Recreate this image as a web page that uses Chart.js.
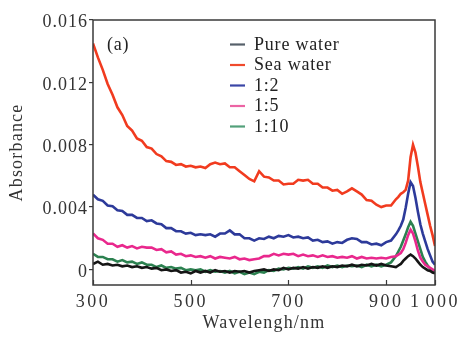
<!DOCTYPE html>
<html><head><meta charset="utf-8">
<script src="https://cdn.jsdelivr.net/npm/chart.js@4.4.0/dist/chart.umd.min.js"></script>
<style>html,body{margin:0;padding:0;background:#fff;}#wrap{width:466px;height:344px;}</style>
</head><body><div id="wrap"><canvas id="c" width="466" height="344"></canvas></div>
<script>
// Wavelength (nm)
const wavelengths = [300,310,320,330,340,350,360,370,380,390,400,410,420,430,440,450,460,470,480,490,500,510,520,530,540,550,560,570,580,590,600,610,620,630,640,650,660,670,680,690,700,710,720,730,740,750,760,770,780,790,800,810,820,830,840,850,860,870,880,890,900,910,920,925,930,935,940,945,950,955,960,965,970,975,980,985,990,995,1000];
// Absorbance values in units of 0.001
const pureWater = [0.35,0.5,0.3,0.35,0.25,0.3,0.2,0.25,0.15,0.2,0.1,0.15,0.05,0.1,-0.05,0.0,-0.1,-0.05,-0.2,-0.15,-0.25,-0.1,-0.2,-0.1,-0.2,-0.05,-0.15,-0.1,-0.2,-0.1,-0.15,-0.1,-0.2,-0.1,-0.05,0.0,-0.1,0.0,-0.05,0.1,0.0,0.1,0.05,0.15,0.05,0.15,0.1,0.2,0.1,0.2,0.15,0.25,0.2,0.3,0.2,0.3,0.25,0.35,0.25,0.35,0.25,0.2,0.15,0.25,0.35,0.55,0.7,0.85,0.95,0.85,0.7,0.5,0.3,0.15,0.05,-0.05,-0.1,-0.2,-0.25];
const seaWater = [14.5,13.6,12.8,11.9,11.2,10.4,9.9,9.2,8.9,8.4,8.25,7.85,7.75,7.4,7.25,6.95,6.9,6.7,6.75,6.6,6.65,6.55,6.6,6.5,6.75,6.85,6.75,6.8,6.55,6.55,6.3,6.05,5.8,5.65,6.3,5.95,5.9,5.7,5.7,5.45,5.5,5.5,5.75,5.7,5.75,5.5,5.5,5.25,5.25,5.05,5.1,4.85,5.0,5.2,5.0,4.8,4.45,4.4,4.15,4.0,4.1,4.1,4.5,4.65,4.85,4.95,5.1,5.7,7.2,8.0,7.5,6.6,5.6,4.9,4.2,3.5,2.8,2.2,1.5];
const ratio1to2 = [4.8,4.5,4.4,4.1,4.05,3.8,3.75,3.5,3.5,3.3,3.3,3.1,3.15,2.95,2.9,2.65,2.65,2.45,2.45,2.3,2.35,2.2,2.25,2.2,2.25,2.1,2.3,2.3,2.5,2.25,2.25,2.0,2.0,1.85,2.0,1.95,2.1,2.0,2.15,2.1,2.2,2.05,2.1,2.0,2.05,1.85,1.9,1.75,1.8,1.65,1.75,1.7,1.9,2.0,1.95,1.75,1.75,1.6,1.65,1.55,1.75,1.85,2.25,2.5,2.8,3.2,3.95,4.85,5.6,5.35,4.6,3.7,2.9,2.3,1.8,1.3,0.9,0.5,0.3];
const ratio1to5 = [2.3,2.0,1.9,1.65,1.65,1.45,1.55,1.4,1.5,1.35,1.45,1.4,1.4,1.25,1.3,1.1,1.15,0.95,1.0,0.85,0.9,0.8,0.85,0.75,0.85,0.7,0.8,0.75,0.7,0.8,0.65,0.7,0.6,0.65,0.7,0.85,0.85,1.0,0.9,1.0,0.95,1.0,0.85,0.95,0.85,0.9,0.8,0.9,0.8,0.85,0.75,0.8,0.75,0.85,0.7,0.8,0.7,0.75,0.7,0.75,0.7,0.8,0.85,0.95,1.05,1.3,1.7,2.2,2.55,2.3,1.8,1.2,0.75,0.5,0.3,0.2,0.1,0.0,-0.1];
const ratio1to10 = [1.0,0.8,0.8,0.65,0.65,0.5,0.6,0.45,0.5,0.35,0.45,0.3,0.3,0.15,0.25,0.1,0.15,0.05,0.1,-0.05,0.0,-0.05,0.0,-0.15,-0.05,-0.15,-0.1,-0.2,-0.1,-0.25,-0.15,-0.3,-0.2,-0.3,-0.15,-0.2,-0.05,-0.1,0.05,0.0,0.1,0.05,0.15,0.05,0.2,0.1,0.2,0.1,0.25,0.15,0.25,0.15,0.25,0.2,0.25,0.15,0.3,0.2,0.3,0.2,0.3,0.45,0.85,1.15,1.45,1.85,2.25,2.7,3.05,2.8,2.3,1.8,1.3,0.8,0.5,0.25,0.05,-0.1,-0.2];

const seriesNames = ['Pure water','Sea water','1:2','1:5','1:10'];
const seriesValues = [pureWater, seaWater, ratio1to2, ratio1to5, ratio1to10];
const seriesColors = ['#151515','#f13b1f','#2d3a9a','#e9288d','#2c8150'];
const legendColors = ['#56606a','#f04a2c','#3a46a6','#ec64a4','#52a07a'];

const xTicks = [300,500,700,900,1000];
const xTickLabels = ['300','500','700','900','1\u200A000'];
const yTicks = [0,4,8,12,16];
const yTickLabels = ['0','0.004','0.008','0.012','0.016'];
const panelLabel = '(a)';
const xTitle = 'Wavelengh/nm';
const yTitle = 'Absorbance';

const FONT = '"Liberation Serif", "DejaVu Serif", serif';
const TXT = '#333333';

const datasets = seriesValues.map((vals, i) => ({
  label: seriesNames[i],
  data: wavelengths.map((w, j) => ({x: w, y: vals[j]})),
  borderColor: seriesColors[i],
  backgroundColor: seriesColors[i],
  borderWidth: 2.6,
  pointRadius: 0,
  tension: 0,
  fill: false
}));

function spaced(fn, sp) {
  return function(a) {
    const ctx = this.ctx; const prev = ctx.letterSpacing;
    ctx.letterSpacing = sp; fn.call(this, a); ctx.letterSpacing = prev;
  };
}

const decor = {
  id: 'decor',
  beforeDraw(chart) {
    const ctx = chart.ctx;
    ctx.save();
    ctx.fillStyle = '#ffffff';
    ctx.fillRect(0, 0, chart.width, chart.height);
    ctx.restore();
    ctx.letterSpacing = '1.2px';
  },
  afterDraw(chart) {
    const ctx = chart.ctx, a = chart.chartArea, xs = chart.scales.x;
    ctx.save();
    ctx.strokeStyle = '#3a3a3a';
    ctx.lineWidth = 1.5;
    ctx.strokeRect(a.left, a.top, a.right - a.left, a.bottom - a.top);
    ctx.lineWidth = 1.2;
    ctx.beginPath();
    xTicks.forEach(v => {
      const px = Math.round(xs.getPixelForValue(v)) + 0.5;
      ctx.moveTo(px, a.bottom);
      ctx.lineTo(px, a.bottom - 5);
    });
    ctx.stroke();
    ctx.font = '18px ' + FONT;
    ctx.fillStyle = '#222';
    ctx.textBaseline = 'middle';
    ctx.textAlign = 'left';
    ctx.letterSpacing = '0.8px';
    ctx.fillText(panelLabel, a.left + 14, a.top + 25);
    chart.data.datasets.forEach((d, i) => {
      const y = 44.5 + i * 20.5;
      ctx.strokeStyle = legendColors[i];
      ctx.lineWidth = 2.2;
      ctx.beginPath();
      ctx.moveTo(230, y); ctx.lineTo(245, y);
      ctx.stroke();
      ctx.fillStyle = '#222';
      ctx.fillText(d.label, 254, y + 0.5);
    });
    ctx.restore();
    ctx.letterSpacing = '0px';
  }
};

new Chart(document.getElementById('c'), {
  type: 'line',
  data: { datasets },
  options: {
    responsive: false,
    animation: false,
    events: [],
    layout: { padding: { left: 0, right: 31, top: 20, bottom: 0 } },
    plugins: { legend: { display: false }, tooltip: { enabled: false } },
    scales: {
      x: {
        type: 'linear', min: 300, max: 1000,
        afterBuildTicks: s => { s.ticks = xTicks.map(v => ({ value: v })); },
        afterFit: s => {
          s.height = 59;
          if (!s._sp) { s.drawLabels = spaced(s.drawLabels, '2.5px'); s._sp = true; }
        },
        ticks: {
          callback: v => xTickLabels[xTicks.indexOf(v)],
          autoSkip: false, maxRotation: 0, padding: 6,
          color: TXT, font: { family: FONT, size: 18 }
        },
        grid: { drawOnChartArea: false, drawTicks: false },
        border: { display: false },
        title: { display: true, text: xTitle, color: TXT, font: { family: FONT, size: 18 }, padding: { top: 0, bottom: 10 } }
      },
      y: {
        type: 'linear', min: -1, max: 16,
        afterBuildTicks: s => { s.ticks = yTicks.map(v => ({ value: v })); },
        afterFit: s => {
          s.width = 93;
          if (!s._sp) { s.drawLabels = spaced(s.drawLabels, '1px'); s._sp = true; }
        },
        ticks: {
          callback: v => yTickLabels[yTicks.indexOf(v)],
          autoSkip: false, padding: 1, labelOffset: 2.5,
          color: TXT, font: { family: FONT, size: 18 }
        },
        grid: { drawOnChartArea: false, drawTicks: true, tickLength: 4, color: '#3a3a3a', lineWidth: 1.2 },
        border: { display: false },
        title: { display: true, text: yTitle, color: TXT, font: { family: FONT, size: 18 }, padding: { top: 6, bottom: 0 } }
      }
    }
  },
  plugins: [decor]
});
</script>
</body></html>
